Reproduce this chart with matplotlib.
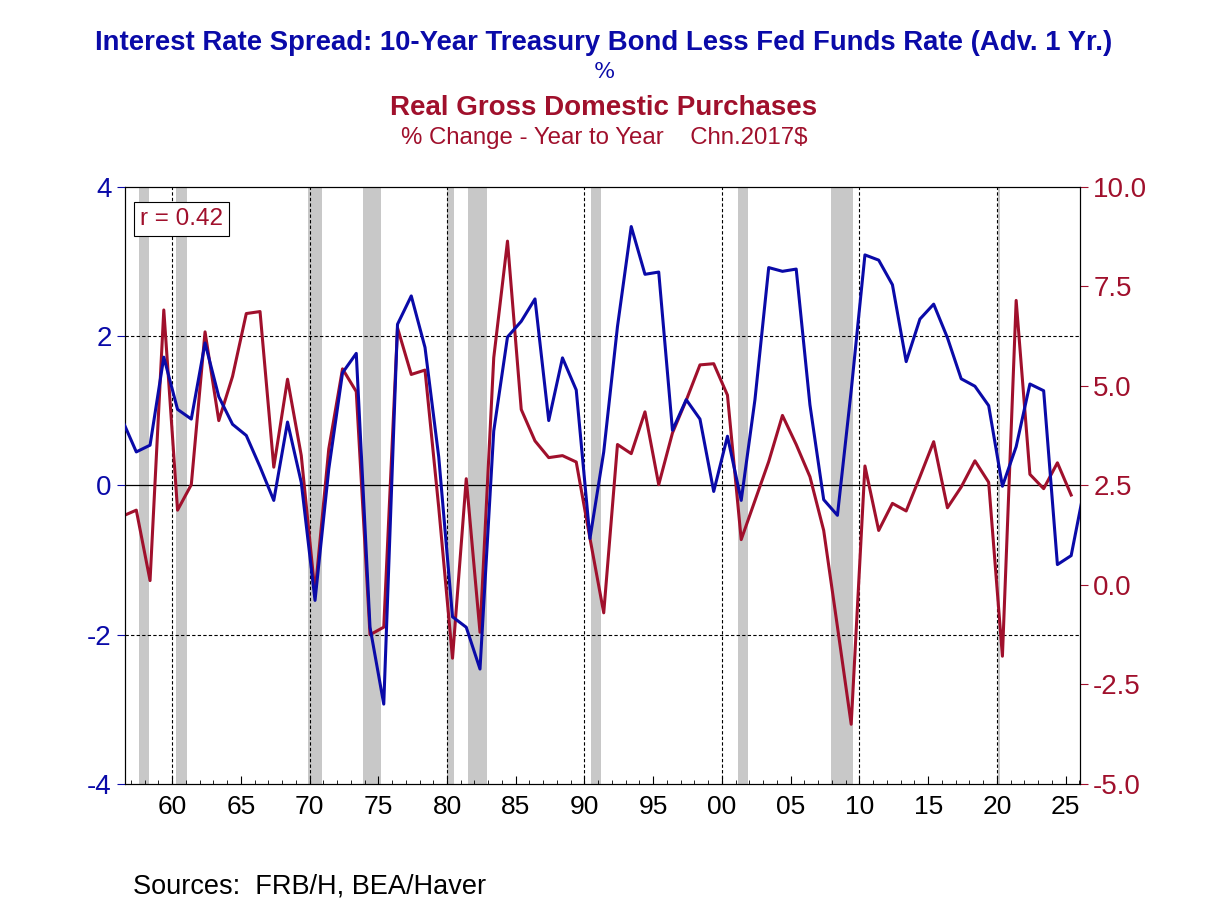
import matplotlib
matplotlib.use('Agg')
from matplotlib import pyplot as plt

plt.rcParams['font.family'] = ['Liberation Sans', 'DejaVu Sans']

BLUE = '#0A0AA8'
RED = '#A0102C'

# Interest rate spread (advanced 1 yr), plotted years
spread_years = list(range(1956, 2027))
spread = [0.87, 0.45, 0.54, 1.72, 1.02, 0.89, 1.91, 1.19, 0.82, 0.67,
          0.25, -0.20, 0.85, 0.04, -1.54, 0.22, 1.51, 1.77, -1.90, -2.93,
          2.16, 2.54, 1.85, 0.38, -1.76, -1.90, -2.46, 0.73, 1.99, 2.20,
          2.50, 0.87, 1.71, 1.28, -0.71, 0.45, 2.13, 3.47, 2.83, 2.86,
          0.74, 1.15, 0.89, -0.08, 0.66, -0.20, 1.15, 2.92, 2.87, 2.90,
          1.08, -0.19, -0.40, 1.27, 3.09, 3.02, 2.69, 1.66, 2.23, 2.43,
          1.98, 1.43, 1.33, 1.07, -0.01, 0.52, 1.36, 1.27, -1.06, -0.94,
          0.00]

# Real gross domestic purchases, % change y/y
gdp_years = list(range(1956, 2026))
gdp = [1.73, 1.88, 0.11, 6.91, 1.88, 2.52, 6.36, 4.13, 5.24, 6.82,
       6.87, 2.96, 5.17, 3.25, -0.20, 3.42, 5.43, 4.86, -1.25, -1.06,
       6.46, 5.29, 5.40, 1.94, -1.84, 2.67, -1.19, 5.71, 8.64, 4.41,
       3.62, 3.20, 3.25, 3.09, 1.17, -0.70, 3.53, 3.30, 4.35, 2.52,
       3.82, 4.64, 5.53, 5.56, 4.77, 1.14, 2.12, 3.10, 4.26, 3.53,
       2.72, 1.37, -1.05, -3.50, 2.99, 1.37, 2.05, 1.86, 2.72, 3.60,
       1.94, 2.46, 3.12, 2.58, -1.79, 7.15, 2.78, 2.42, 3.07, 2.26]

recessions = [(1957.6, 1958.3), (1960.3, 1961.1), (1969.9, 1970.9), (1973.9, 1975.2),
              (1980.0, 1980.5), (1981.5, 1982.9), (1990.5, 1991.2), (2001.2, 2001.9),
              (2007.9, 2009.5), (2020.1, 2020.25)]

OFFSET = 0.4

fig = plt.figure(figsize=(12.08, 9.06), dpi=100)
ax = fig.add_axes([0.1035, 0.1347, 0.7905, 0.6589])
ax2 = ax.twinx()

# background marks go on the lower (right) axis so both lines sit above them
for a, b in recessions:
    ax2.axvspan(a, b, color='#C8C8C8', lw=0, zorder=0)
for yr in range(1960, 2030, 10):
    ax2.axvline(yr, color='black', ls=(0, (3, 2)), lw=0.8, zorder=1)
for yv in (-2, 2):
    ax2.axhline(2.5 + yv * 1.875, color='black', ls=(0, (3, 2)), lw=0.8, zorder=1)
ax2.axhline(2.5, color='black', lw=0.9, zorder=1)

ax.plot([y + OFFSET for y in spread_years], spread, color=BLUE, lw=2.2, zorder=3)
ax2.plot([y + OFFSET for y in gdp_years], gdp, color=RED, lw=2.2, zorder=3)

ax.set_xlim(1956.58, 2026.04)
ax.set_ylim(-4, 4)
ax2.set_ylim(-5, 10)
ax.set_yticks([-4, -2, 0, 2, 4])
ax.set_yticklabels(['-4', '-2', '0', '2', '4'])
ax2.set_yticks([-5, -2.5, 0, 2.5, 5, 7.5, 10])
ax2.set_yticklabels(['-5.0', '-2.5', '0.0', '2.5', '5.0', '7.5', '10.0'])
ax.set_xticks(list(range(1960, 2030, 5)))
ax.set_xticklabels(['%02d' % (y % 100) for y in range(1960, 2030, 5)])
ax.set_xticks(list(range(1957, 2027)), minor=True)

ax.tick_params(axis='y', colors=BLUE, labelsize=20, direction='out', length=6)
ax2.tick_params(axis='y', colors=RED, labelsize=20, direction='out', length=6)
ax.tick_params(axis='x', which='major', labelsize=19, direction='in', length=6, pad=8)
ax.tick_params(axis='x', which='minor', direction='in', length=3)
ax.set_zorder(ax2.get_zorder() + 1)
ax.patch.set_visible(False)

ax.text(0.016, 0.965, 'r = 0.42', transform=ax.transAxes, color=RED, fontsize=17.5,
        va='top', ha='left', bbox=dict(boxstyle='square,pad=0.25', fc='white', ec='black', lw=0.8), zorder=5)

fig.text(0.5, 0.953, 'Interest Rate Spread: 10-Year Treasury Bond Less Fed Funds Rate (Adv. 1 Yr.)',
         color=BLUE, fontsize=19.8, fontweight='bold', ha='center', va='center')
fig.text(0.5, 0.921, '%', color=BLUE, fontsize=16, ha='center', va='center', family='DejaVu Serif')
fig.text(0.5, 0.881, 'Real Gross Domestic Purchases', color=RED, fontsize=20,
         fontweight='bold', ha='center', va='center')
fig.text(0.5, 0.848, '% Change - Year to Year    Chn.2017$', color=RED, fontsize=17.3,
         ha='center', va='center')
fig.text(0.11, 0.022, 'Sources:  FRB/H, BEA/Haver', color='black', fontsize=19.5,
         ha='left', va='center')

fig.savefig('out.png', dpi=100)
